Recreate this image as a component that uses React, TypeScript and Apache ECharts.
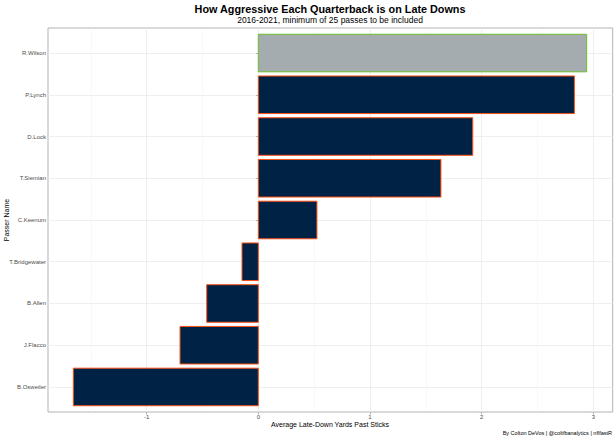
import React, { useEffect, useRef } from "react";
import * as echarts from "echarts";

const passers = [
  "R.Wilson",
  "P.Lynch",
  "D.Lock",
  "T.Siemian",
  "C.Keenum",
  "T.Bridgewater",
  "B.Allen",
  "J.Flacco",
  "B.Osweiler",
];
const yardsPastSticks = [2.94, 2.83, 1.92, 1.635, 0.525, -0.146, -0.462, -0.701, -1.656];
const highlighted = ["R.Wilson"];
const xMajorTicks = [-1, 0, 1, 2, 3];
const xMinorTicks = [-1.5, -0.5, 0.5, 1.5, 2.5];
const yPositions = passers.map((_, i) => i + 1);

const FONT = "Liberation Sans, Arial, Helvetica, sans-serif";

export default function App() {
  const ref = useRef<HTMLDivElement>(null);
  useEffect(() => {
    if (!ref.current) return;
    const chart = echarts.init(ref.current, undefined, { renderer: "svg" });
    const data = passers.map((name, i) => ({
      name,
      value: [yardsPastSticks[i], i + 1],
    }));
    const option: any = {
      animation: false,
      backgroundColor: "#ffffff",
      textStyle: { fontFamily: FONT },
      graphic: [
        {
          type: "text",
          x: 330,
          y: 9,
          style: {
            text: "How Aggressive Each Quarterback is on Late Downs",
            fontSize: 10.8,
            fontWeight: "bold",
            fill: "#000",
            fontFamily: FONT,
            align: "center",
            verticalAlign: "middle",
          },
        },
        {
          type: "text",
          x: 330,
          y: 20,
          style: {
            text: "2016-2021, minimum of 25 passes to be included",
            fontSize: 8.5,
            fill: "#000",
            fontFamily: FONT,
            align: "center",
            verticalAlign: "middle",
          },
        },
        {
          type: "text",
          x: 612,
          y: 433,
          style: {
            text: "By Colton DeVos | @coltfbanalytics | nflfastR",
            fontSize: 5.5,
            fill: "#000",
            fontFamily: FONT,
            align: "right",
            verticalAlign: "middle",
          },
        },
        {
          type: "text",
          x: 6,
          y: 220,
          rotation: Math.PI / 2,
          style: {
            text: "Passer Name",
            fontSize: 7,
            fill: "#000",
            fontFamily: FONT,
            align: "center",
            verticalAlign: "middle",
          },
        },
        {
          type: "text",
          x: 330,
          y: 424,
          style: {
            text: "Average Late-Down Yards Past Sticks",
            fontSize: 7,
            fill: "#000",
            fontFamily: FONT,
            align: "center",
            verticalAlign: "middle",
          },
        },
      ],
      grid: {
        left: 48,
        right: 3.3,
        top: 28,
        bottom: 28,
        containLabel: false,
        outerBoundsMode: "none",
        show: true,
        borderColor: "#b3b3b3",
        borderWidth: 1,
        backgroundColor: "#fff",
      },
      xAxis: [
        {
          type: "value",
          min: -1.883,
          max: 3.173,
          axisLine: { show: false },
          axisTick: { show: true, length: 2.5, customValues: xMajorTicks, lineStyle: { color: "#b3b3b3" } },
          axisLabel: {
            customValues: xMajorTicks,
            fontSize: 6,
            color: "#4d4d4d",
            margin: 2,
            formatter: (v: number) => String(v),
          },
          splitLine: { show: true, lineStyle: { color: "#ebebeb", width: 0.8 } },
        },
        {
          type: "value",
          min: -1.883,
          max: 3.173,
          axisLine: { show: false },
          axisTick: { show: false, customValues: xMinorTicks },
          axisLabel: { show: false, customValues: xMinorTicks },
          splitLine: { show: true, lineStyle: { color: "#f2f2f2", width: 0.5 } },
        },
      ],
      yAxis: {
        type: "value",
        min: 0.4,
        max: 9.6,
        inverse: true,
        axisLine: { show: false },
        axisTick: { show: true, length: 2.5, customValues: yPositions, lineStyle: { color: "#b3b3b3" } },
        axisLabel: {
          customValues: yPositions,
          fontSize: 6,
          color: "#4d4d4d",
          margin: 2,
          formatter: (v: number) => passers[Math.round(v) - 1] ?? "",
        },
        splitLine: { show: true, lineStyle: { color: "#ebebeb", width: 0.8 } },
      },
      series: [
        {
          type: "custom",
          xAxisIndex: 0,
          yAxisIndex: 0,
          encode: { x: 0, y: 1 },
          data,
          renderItem: (params: any, api: any) => {
            const v = api.value(0);
            const pos = api.value(1);
            const p0 = api.coord([0, pos]);
            const p1 = api.coord([v, pos]);
            const h = api.size([0, 0.9])[1];
            const name = passers[params.dataIndex];
            const hl = highlighted.includes(name);
            return {
              type: "rect",
              shape: {
                x: Math.min(p0[0], p1[0]),
                y: p0[1] - h / 2,
                width: Math.abs(p1[0] - p0[0]),
                height: h,
              },
              style: {
                fill: hl ? "#A5ACAF" : "#002244",
                stroke: hl ? "#69BE28" : "#FB4F14",
                lineWidth: 1,
              },
            };
          },
        },
      ],
    };
    chart.setOption(option);
    return () => chart.dispose();
  }, []);
  return (
    <div
      ref={ref}
      style={{ position: "fixed", left: 0, top: 0, width: 616, height: 440 }}
    />
  );
}
